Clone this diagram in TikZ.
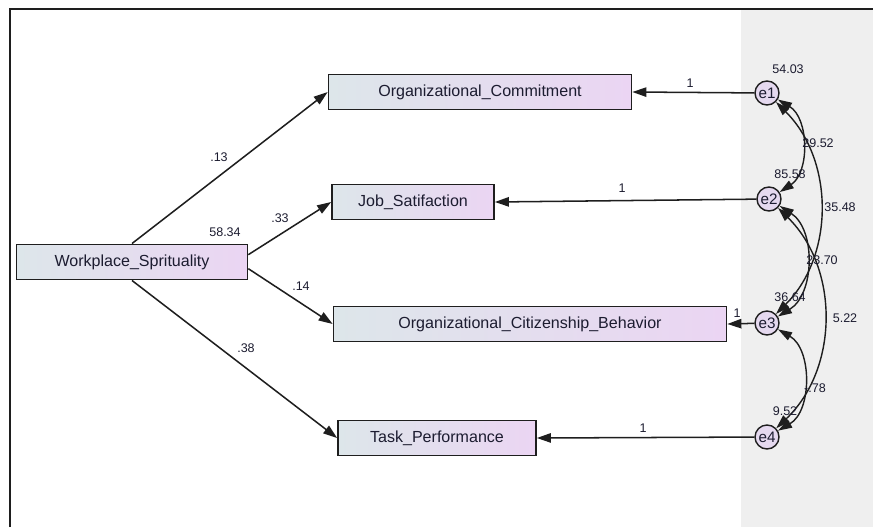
\documentclass[tikz,border=0pt]{standalone}
\usepackage{fontspec}
\setmainfont{Liberation Sans}
\usepackage{tikz}
\usetikzlibrary{arrows.meta, positioning, calc}
\definecolor{boxLeft}{HTML}{DDE6EA}
\definecolor{boxRight}{HTML}{EBD5F3}
\definecolor{errFill}{HTML}{E5D9EF}
\definecolor{panelGray}{HTML}{EFEFEF}
\definecolor{lineDark}{HTML}{1E1E1E}
\definecolor{txtDark}{HTML}{1C1C30}
\tikzset{
    % Observed variables
    obsBox/.style={rectangle, draw=lineDark, line width=1.4pt, left color=boxLeft, right color=boxRight,
        minimum height=1.06cm, inner sep=0pt, font=\fontsize{13.7}{15}\selectfont, text=txtDark},
    % Error terms
    errCircle/.style={circle, draw=lineDark, line width=1.2pt, fill=errFill, minimum size=0.72cm,
        inner sep=0pt, font=\fontsize{13}{15}\selectfont, text=txtDark},
    % Paths
    pathArrow/.style={-{Triangle[length=12pt, width=8pt]}, line width=1.3pt, draw=lineDark},
    covArrow/.style={{Triangle[length=12pt, width=7.5pt]}-{Triangle[length=12pt, width=7.5pt]}, line width=1.2pt, draw=lineDark},
    estLabel/.style={font=\fontsize{10.7}{12}\selectfont, text=txtDark, inner sep=0pt}
}

\begin{document}
\begin{tikzpicture}[x=0.03cm, y=-0.03cm]
    \useasboundingbox (0,0) rectangle (873,527);
    % Panel and frame
    \fill[panelGray] (741,10) rectangle (873,527);
    \draw[lineDark, line width=1.6pt] (10,527) |- (873,9);

    % Variables
    \node[obsBox, minimum width=6.93cm] (WS) at (132,262) {Workplace\_Sprituality};
    \node[obsBox, minimum width=9.09cm] (OC) at (480,92) {Organizational\_Commitment};
    \node[obsBox, minimum width=4.86cm] (JS) at (413,202) {Job\_Satifaction};
    \node[obsBox, minimum width=11.79cm] (OCB) at (530,324) {Organizational\_Citizenship\_Behavior};
    \node[obsBox, minimum width=5.94cm] (TP) at (437,438) {Task\_Performance};

    \node[errCircle] (e1) at (767,93) {e1};
    \node[errCircle] (e2) at (769,199) {e2};
    \node[errCircle] (e3) at (767,323) {e3};
    \node[errCircle] (e4) at (767,437) {e4};

    % Regression paths
    \draw[pathArrow] (WS.north) -- (OC.west);
    \draw[pathArrow] ([yshift=0.22cm]WS.east) -- (JS.west);
    \draw[pathArrow] ([yshift=-0.2cm]WS.east) -- (OCB.west);
    \draw[pathArrow] (WS.south) -- (TP.west);
    \draw[pathArrow] (e1) -- (OC.east);
    \draw[pathArrow] (e2) -- (JS.east);
    \draw[pathArrow] (e3) -- (OCB.east);
    \draw[pathArrow] (e4) -- (TP.east);

    % Covariances
    \draw[covArrow] (e1) to[bend left=58] (e2);
    \draw[covArrow] (e1) to[bend left=45] (e3);
    \draw[covArrow] (e2) to[bend left=58] (e3);
    \draw[covArrow] (e2) to[bend left=46] (e4);
    \draw[covArrow] (e3) to[bend left=60] (e4);

    % Estimates
    \node[estLabel] (bOC) at (219,157) {.13};
    \node[estLabel] (vWS) at (225,232) {58.34};
    \node[estLabel] (bJS) at (280,218) {.33};
    \node[estLabel] (bOCB) at (301,286) {.14};
    \node[estLabel] (bTP) at (246,348) {.38};
    \node[estLabel] (w1) at (690,83) {1};
    \node[estLabel] (w2) at (622,188) {1};
    \node[estLabel] (w3) at (737,313) {1};
    \node[estLabel] (w4) at (643,428) {1};
    \node[estLabel] (v1) at (788,69) {54.03};
    \node[estLabel] (v2) at (790,174) {85.58};
    \node[estLabel] (v3) at (790,297) {36.64};
    \node[estLabel] (v4) at (785,411) {9.52};
    \node[estLabel] (c12) at (818,143) {29.52};
    \node[estLabel] (c13) at (840,207) {35.48};
    \node[estLabel] (c23) at (822,260) {23.70};
    \node[estLabel] (c24) at (845,318) {5.22};
    \node[estLabel] (c34) at (815,388) {-.78};
\end{tikzpicture}
\end{document}
